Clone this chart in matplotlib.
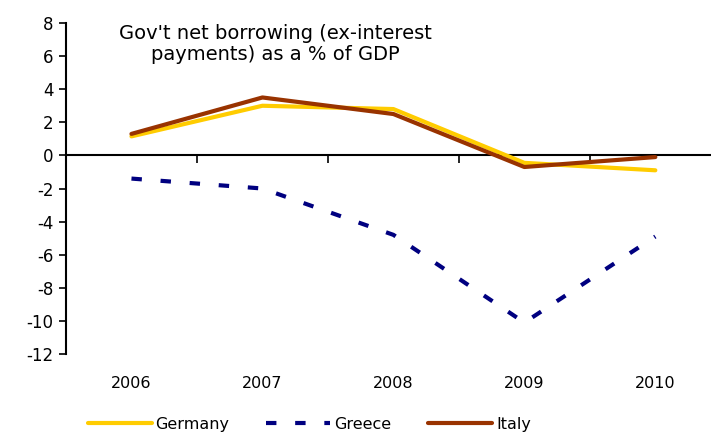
import numpy as np
import matplotlib
matplotlib.use("Agg")
import matplotlib.pyplot as plt

# --- data ---
YEARS = ["2006", "2007", "2008", "2009", "2010"]
GERMANY = [1.15, 3.0, 2.8, -0.45, -0.9]
GREECE = [-1.4, -2.0, -4.8, -10.1, -4.9]
ITALY = [1.3, 3.5, 2.5, -0.7, -0.1]

TITLE = "Gov't net borrowing (ex-interest\npayments) as a % of GDP"

# --- style ---
FS = 11.5
FS_TITLE = 14
C_GER = "#FFCC00"
C_GRE = "#000080"
C_ITA = "#993300"

plt.rcParams["font.family"] = ["DejaVu Sans"]
plt.rcParams["axes.unicode_minus"] = False

fig = plt.figure(figsize=(7.11, 4.33), dpi=100)
ax = fig.add_axes([0.0928, 0.1824, 0.921, 0.7645])

x = np.arange(len(YEARS))
ax.plot(x, GERMANY, color=C_GER, lw=3, solid_capstyle="round", label="Germany", zorder=3)
ax.plot(x, GREECE, color=C_GRE, lw=3, linestyle=(0, (2.5, 4.5)),
        dash_capstyle="butt", label="Greece", zorder=3)
ax.plot(x, ITALY, color=C_ITA, lw=3, solid_capstyle="round", label="Italy", zorder=4)

ax.set_xlim(-0.5, len(YEARS) - 0.5)
ax.set_ylim(-12, 8)
ax.set_yticks(np.arange(-12, 9, 2))
ax.tick_params(axis="y", direction="out", length=5, width=1.2, labelsize=12, pad=4)

# spines: left only, bottom moved to zero
ax.spines["top"].set_visible(False)
ax.spines["right"].set_visible(False)
ax.spines["left"].set_linewidth(1.5)
ax.spines["bottom"].set_position(("data", 0))
ax.spines["bottom"].set_linewidth(1.5)
ax.set_xticks(np.arange(0.5, len(YEARS) - 0.5, 1.0))
ax.set_xticklabels([])
ax.tick_params(axis="x", direction="out", length=6, width=1.2)

# category labels below the plot
for i, yr in enumerate(YEARS):
    ax.text(i, -0.088, yr, transform=ax.get_xaxis_transform(),
            ha="center", va="center", fontsize=FS)

ax.text(0.32, 0.998, TITLE, transform=ax.transAxes, ha="center", va="top",
        fontsize=FS_TITLE, linespacing=1.15)

handles, labels = ax.get_legend_handles_labels()
fig.legend(handles, labels, loc="center", bbox_to_anchor=(0.435, 0.02), ncol=3,
           frameon=False, fontsize=FS, handlelength=4.0, handletextpad=0.25,
           columnspacing=2.3)

fig.savefig("out.png", dpi=100)
